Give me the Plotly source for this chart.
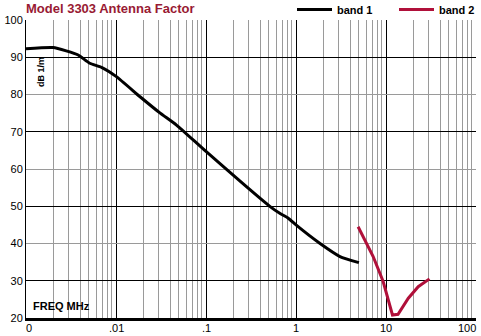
import math
import plotly.graph_objects as go

# Antenna factor, band 1 (frequency in MHz, AF in dB 1/m)
band1_freq = [0.001, 0.002, 0.0028, 0.0038, 0.0051, 0.0069, 0.0101, 0.0185, 0.031, 0.047,
              0.1, 0.516, 0.66, 0.82, 1.0, 1.85, 3.08, 5.0]
band1_af = [92.3, 92.6, 91.7, 90.6, 88.4, 87.3, 84.8, 79.4, 75.0, 71.8,
            64.7, 49.9, 48.1, 46.8, 45.0, 40.0, 36.5, 34.85]

# Antenna factor, band 2
band2_freq = [4.9, 7.2, 9.3, 11.8, 13.6, 17.7, 22.8, 30.4]
band2_af = [44.5, 36.5, 29.8, 20.8, 21.0, 25.3, 28.4, 30.5]

# Axis ticks
x_tick_vals = [0.001, 0.01, 0.1, 1, 10, 100]
x_tick_text = ["0", ".01", ".1", "1", "10", "100"]
y_tick_vals = [20, 30, 40, 50, 60, 70, 80, 90, 100]
y_tick_text = ["20", "30", "40", "50", "60", "70", "80", "90", "100"]
y_dark_grid = [30, 50, 70, 90, 100]

SANS = "Liberation Sans, Arial, Helvetica, sans-serif"
RED = "#b0103a"
TITLE_RED = "#981a33"

minor_x = [k * 10 ** e for e in range(-3, 2) for k in range(2, 10)]

fig = go.Figure()
fig.add_trace(go.Scatter(x=band1_freq, y=band1_af, mode="lines", name="band 1",
                         line=dict(color="black", width=3, shape="spline", smoothing=0.5)))
fig.add_trace(go.Scatter(x=band2_freq, y=band2_af, mode="lines", name="band 2",
                         line=dict(color=RED, width=3)))
# carrier for the dark grid axis
fig.add_trace(go.Scatter(x=[], y=[], yaxis="y2", showlegend=False, hoverinfo="skip"))

fig.update_layout(
    width=481, height=336,
    margin=dict(l=26, r=5, t=20, b=18, autoexpand=False),
    paper_bgcolor="white", plot_bgcolor="white",
    font=dict(family=SANS, color="black", size=11),
    title=dict(text="Model 3303 Antenna Factor", xref="paper", x=0, xanchor="left",
               yref="container", y=1 - 8.5 / 336, yanchor="middle",
               font=dict(family=SANS, size=13, color=TITLE_RED, weight="bold")),
    xaxis=dict(type="log", range=[-3, 2], tickvals=x_tick_vals, showticklabels=False,
               ticks="", showgrid=True, gridcolor="black", gridwidth=1,
               showline=True, linecolor="black", linewidth=3, zeroline=False,
               minor=dict(tickvals=minor_x, showgrid=True, gridcolor="#9a9a9a",
                          gridwidth=1, ticks="")),
    yaxis=dict(range=[20, 100], tickvals=y_tick_vals, ticktext=y_tick_text,
               ticks="", showgrid=True, gridcolor="#9a9a9a", gridwidth=1,
               showline=True, linecolor="black", linewidth=1, zeroline=False,
               tickfont=dict(size=11)),
    yaxis2=dict(overlaying="y", range=[20, 100], tickvals=y_dark_grid,
                showticklabels=False, ticks="", showgrid=True, gridcolor="black",
                gridwidth=1, showline=False, zeroline=False),
    legend=dict(orientation="h", x=(292 - 26) / 450, xanchor="left",
                y=(318 - 9.5) / 298, yanchor="middle",
                bgcolor="rgba(0,0,0,0)", font=dict(family=SANS, size=11, weight="bold"),
                itemwidth=35, entrywidth=52, traceorder="normal"),
)

# white boxes behind the in-plot labels (above gridlines, under curves)
fig.add_shape(type="rect", layer="between", xref="paper", yref="paper",
              x0=0.003, x1=0.051, y0=0.758, y1=0.893,
              fillcolor="white", line=dict(width=0))
fig.add_shape(type="rect", layer="between", xref="paper", yref="paper",
              x0=0.003, x1=0.149, y0=0.004, y1=0.077,
              fillcolor="white", line=dict(width=0))

fig.add_annotation(text="dB 1/m", textangle=-90, xref="paper", yref="paper",
                   x=0.032, y=0.827, xanchor="center", yanchor="middle", showarrow=False,
                   font=dict(family=SANS, size=9, weight="bold"))
fig.add_annotation(text="FREQ MHz", xref="paper", yref="paper", x=0.010, y=0.0386,
                   xanchor="left", yanchor="middle", showarrow=False,
                   font=dict(family=SANS, size=11, weight="bold"))

# frequency labels along the bottom
for i, (v, t) in enumerate(zip(x_tick_vals, x_tick_text)):
    last = i == len(x_tick_vals) - 1
    fig.add_annotation(text=t, xref="x", yref="paper", x=math.log10(v), y=0,
                       yanchor="top", yshift=-2, xanchor="right" if last else "center",
                       xshift=2 if last else (3 if i == 0 else 0), showarrow=False,
                       font=dict(family=SANS, size=11))

fig.write_html("out.html")
